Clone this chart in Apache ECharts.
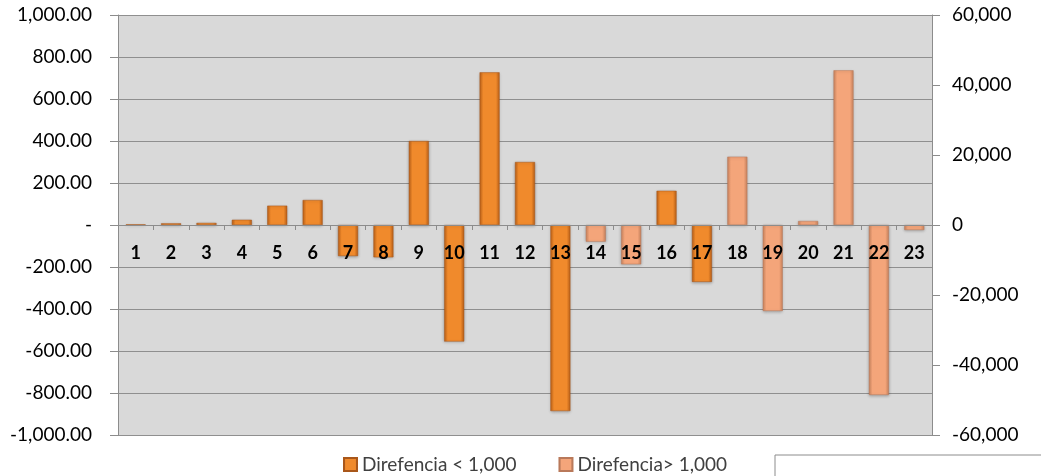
<!DOCTYPE html>
<html>
<head>
<meta charset="utf-8">
<script src="https://cdn.jsdelivr.net/npm/echarts@6/dist/echarts.min.js"></script>
<style>
  html, body { margin: 0; padding: 0; background: #fff; }
  #chart { width: 1041px; height: 476px; }
</style>
</head>
<body>
<div id="chart"></div>
<script>
// categorias 1..23
const categories = ['1','2','3','4','5','6','7','8','9','10','11','12','13','14','15','16','17','18','19','20','21','22','23'];
// eje izquierdo
const menor1000 = [3, 8, 10, 25, 92, 119, -148, -154, 400, -555, 727, 300, -886, null, null, 163, -271, null, null, null, null, null, null];
// eje derecho
const mayor1000 = [null, null, null, null, null, null, null, null, null, null, null, null, null, -4760, -11240, null, null, 19520, -24570, 1140, 44200, -48570, -1430];
const leftTicks = { min: -1000, max: 1000, step: 200 };
const rightTicks = { min: -60000, max: 60000, step: 20000 };

function bevel(edge, mid) {
  return {
    type: 'linear', x: 0, y: 0, x2: 1, y2: 0,
    colorStops: [
      { offset: 0, color: edge },
      { offset: 0.18, color: mid },
      { offset: 0.82, color: mid },
      { offset: 1, color: edge }
    ]
  };
}

const fontFam = 'Lato, "Open Sans", sans-serif';
let myChart = echarts.init(document.getElementById('chart'));

myChart.setOption({
  animation: false,
  grid: {
    left: 118, right: 109, top: 15, bottom: 41,
    show: true,
    backgroundColor: '#d9d9d9',
    borderWidth: 0
  },
  legend: {
    bottom: -3,
    left: 338,
    itemWidth: 13,
    itemHeight: 13,
    itemGap: 42,
    icon: 'rect',
    textStyle: { fontFamily: fontFam, fontSize: 19, color: '#404040' },
    data: ['Direfencia < 1,000', 'Direfencia> 1,000']
  },
  graphic: [{
    type: 'rect',
    shape: { x: 775, y: 455, width: 280, height: 40 },
    style: { fill: '#fff', stroke: '#8c8c8c', lineWidth: 1 }
  }],
  xAxis: {
    type: 'category',
    data: categories,
    // el eje se sube hasta el cero (mitad del area de 420px)
    offset: -210,
    axisLine: { onZero: false, lineStyle: { color: '#8c8c8c', width: 1 } },
    axisTick: { show: true, length: 5, lineStyle: { color: '#8c8c8c' } },
    axisLabel: {
      margin: 19,
      interval: 0,
      color: '#000',
      fontWeight: 'bold',
      fontSize: 18,
      fontFamily: fontFam
    },
    splitLine: { show: false },
    z: 10
  },
  yAxis: [
    {
      type: 'value',
      min: leftTicks.min, max: leftTicks.max, interval: leftTicks.step,
      axisLine: { show: true, onZero: false, lineStyle: { color: '#8c8c8c' } },
      axisTick: { show: true, length: 8, lineStyle: { color: '#8c8c8c' } },
      splitLine: { show: true, lineStyle: { color: '#8f8f8f', width: 1 } },
      axisLabel: {
        margin: 26,
        color: '#000',
        fontSize: 19,
        fontFamily: fontFam,
        formatter: v => v === 0 ? '-' : v.toLocaleString('en-US', { minimumFractionDigits: 2, maximumFractionDigits: 2 })
      }
    },
    {
      type: 'value',
      position: 'right',
      min: rightTicks.min, max: rightTicks.max, interval: rightTicks.step,
      axisLine: { show: true, onZero: false, lineStyle: { color: '#8c8c8c' } },
      axisTick: { show: true, length: 8, lineStyle: { color: '#8c8c8c' } },
      splitLine: { show: false },
      axisLabel: {
        margin: 20,
        color: '#000',
        fontSize: 19,
        fontFamily: fontFam,
        formatter: v => v.toLocaleString('en-US')
      }
    }
  ],
  series: [
    {
      name: 'Direfencia < 1,000',
      type: 'bar',
      yAxisIndex: 0,
      barWidth: 20,
      barGap: '-100%',
      data: menor1000,
      itemStyle: {
        color: bevel('#b95f17', '#f08a2c'),
        borderColor: '#a9571a',
        borderWidth: 0.5,
        shadowColor: 'rgba(0,0,0,0.25)',
        shadowBlur: 3,
        shadowOffsetY: 1
      }
    },
    {
      name: 'Direfencia> 1,000',
      type: 'bar',
      yAxisIndex: 1,
      barWidth: 20,
      barGap: '-100%',
      data: mayor1000,
      itemStyle: {
        color: bevel('#c9835e', '#f4a57a'),
        borderColor: '#b9795a',
        borderWidth: 0.5,
        shadowColor: 'rgba(0,0,0,0.25)',
        shadowBlur: 3,
        shadowOffsetY: 1
      }
    }
  ]
});

window.addEventListener('resize', () => { myChart.resize(); });
</script>
</body>
</html>
